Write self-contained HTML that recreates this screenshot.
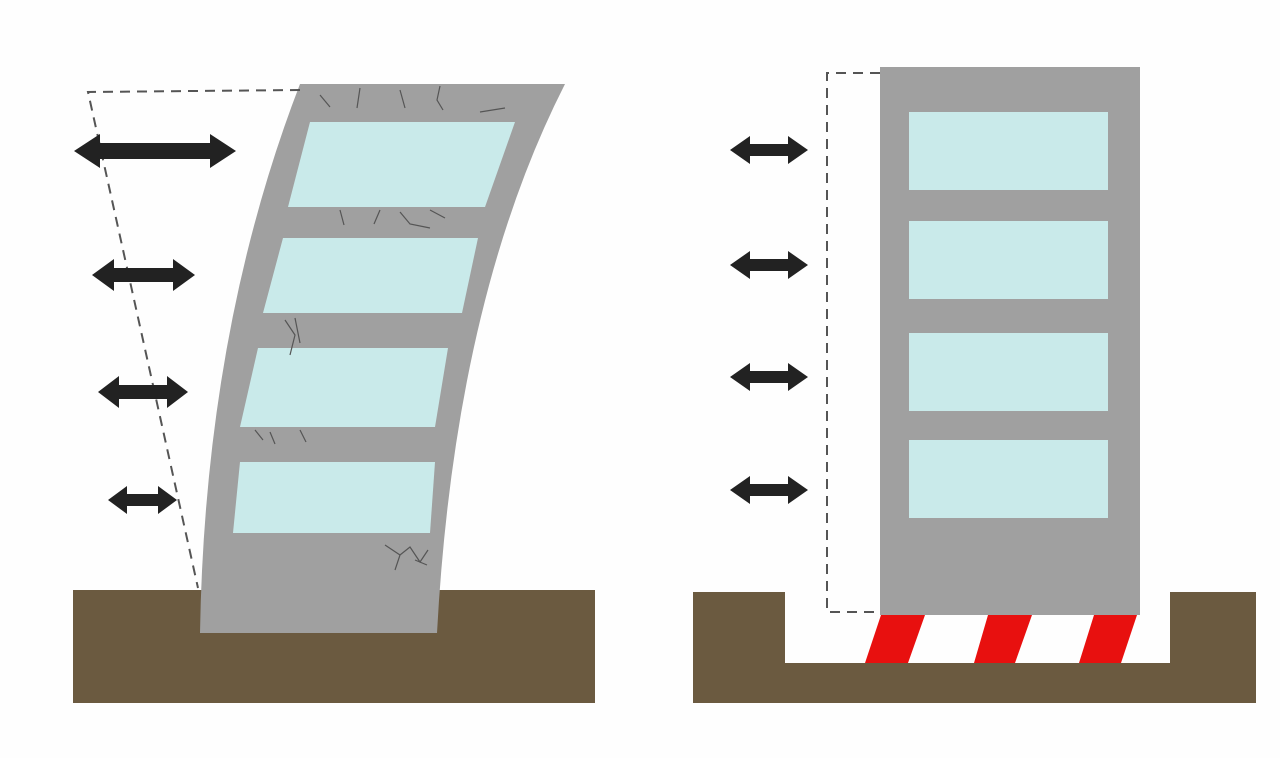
<!DOCTYPE html>
<html><head><style>html,body{margin:0;padding:0;background:#fff}svg{display:block}</style></head>
<body>
<svg width="1280" height="758" viewBox="0 0 1280 758" xmlns="http://www.w3.org/2000/svg">
<rect width="1280" height="758" fill="#fefefe"/>
<rect x="73" y="590" width="522" height="113" fill="#6b5a40"/>
<path d="M300,84 L565,84 Q455,300 437,633 L200,633 Q205,330 300,84 Z" fill="#a0a0a0"/>
<g fill="#c9eaea">
<polygon points="310,122 515,122 485,207 288,207"/>
<polygon points="283,238 478,238 462,313 263,313"/>
<polygon points="258,348 448,348 435,427 240,427"/>
<polygon points="240,462 435,462 430,533 233,533"/>
</g>
<g stroke="#555" stroke-width="1.2" fill="none">
<path d="M320,95 l10,12 M360,88 l-3,20 M400,90 l5,18 M440,86 l-3,14 l6,10 M480,112 l25,-4"/>
<path d="M340,210 l4,15 M380,210 l-6,14 M400,212 l10,12 l20,4 M430,210 l15,8"/>
<path d="M285,320 l10,15 l-5,20 M295,318 l5,25"/>
<path d="M255,430 l8,10 M270,432 l5,12 M300,430 l6,12"/>
<path d="M385,545 l15,10 l10,-8 l10,15 l8,-12 M400,555 l-5,15 M415,560 l12,5"/>
</g>
<path d="M300,90 L88,92 L198,588" fill="none" stroke="#555" stroke-width="2" stroke-dasharray="10,7"/>
<path d="M693,592 L785,592 L785,663 L1170,663 L1170,592 L1256,592 L1256,703 L693,703 Z" fill="#6b5a40"/>
<rect x="880" y="67" width="260" height="548" fill="#a0a0a0"/>
<g fill="#c9eaea">
<rect x="909" y="112" width="199" height="78"/>
<rect x="909" y="221" width="199" height="78"/>
<rect x="909" y="333" width="199" height="78"/>
<rect x="909" y="440" width="199" height="78"/>
</g>
<g fill="#e8100f">
<polygon points="881,615 925,615 908,663 865,663"/>
<polygon points="988,615 1032,615 1015,663 974,663"/>
<polygon points="1094,615 1137,615 1121,663 1079,663"/>
</g>
<path d="M880,73 L827,73 L827,612 L880,612" fill="none" stroke="#555" stroke-width="2" stroke-dasharray="10,7"/>
<g fill="#222">
<path d="M74,151 L100,134 L100,143 L210,143 L210,134 L236,151 L210,168 L210,159 L100,159 L100,168 Z"/>
<path d="M92,275 L114,259 L114,268 L173,268 L173,259 L195,275 L173,291 L173,282 L114,282 L114,291 Z"/>
<path d="M98,392 L119,376 L119,385 L167,385 L167,376 L188,392 L167,408 L167,399 L119,399 L119,408 Z"/>
<path d="M108,500 L127,486 L127,494 L158,494 L158,486 L177,500 L158,514 L158,506 L127,506 L127,514 Z"/>
<path d="M730,150 L750,136 L750,144 L788,144 L788,136 L808,150 L788,164 L788,156 L750,156 L750,164 Z"/>
<path d="M730,265 L750,251 L750,259 L788,259 L788,251 L808,265 L788,279 L788,271 L750,271 L750,279 Z"/>
<path d="M730,377 L750,363 L750,371 L788,371 L788,363 L808,377 L788,391 L788,383 L750,383 L750,391 Z"/>
<path d="M730,490 L750,476 L750,484 L788,484 L788,476 L808,490 L788,504 L788,496 L750,496 L750,504 Z"/>
</g>
</svg>
</body></html>
